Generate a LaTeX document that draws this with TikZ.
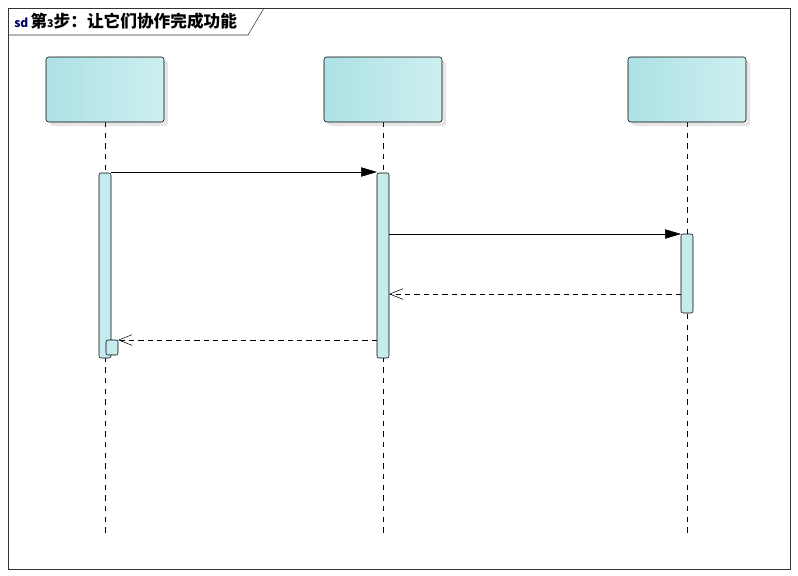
\documentclass[tikz,border=0pt]{standalone}
\usepackage{fontspec}
\newfontfamily\cjk{Noto Sans CJK SC}
\usetikzlibrary{arrows.meta,shadows}
\definecolor{boxL}{HTML}{ADE1E5}
\definecolor{boxR}{HTML}{CDEFF0}
\definecolor{actF}{HTML}{C4ECEE}
\begin{document}
\begin{tikzpicture}[x=0.75pt,y=-0.75pt,
  life/.style={draw=black,rounded corners=2pt,left color=boxL,right color=boxR,drop shadow={opacity=0.2,shadow xshift=3pt,shadow yshift=-3pt}},
  act/.style={draw=black,rounded corners=1.5pt,fill=actF},
  lline/.style={black,dash pattern=on 4pt off 4pt},
  msg/.style={-{Triangle[length=12pt,width=7pt]},black},
  ret/.style={dash pattern=on 4pt off 3pt,-{Straight Barb[length=10pt,width=8pt]},black}]
\useasboundingbox (0,0) rectangle (798,575);
\draw[black!80] (8,8) rectangle (790,569);
\draw[black!80] (8,35) -- (248,35) -- (264,8);
\node[anchor=west,inner sep=0] (title) at (14,21) {\cjk\bfseries{\fontsize{9}{10}\selectfont\color{blue!40!black}sd}\,\fontsize{12.5}{14}\selectfont 第{\fontsize{8}{9}\selectfont 3}步：让它们协作完成功能};
\foreach \n/\x in {a/105,b/383,c/687}{
  \coordinate (\n top) at (\x,122);
  \coordinate (\n bot) at (\x,533);
  \draw[lline] (\n top) -- (\n bot);
  \path[life] (\x-59,57) rectangle (\x+59,122);
  \node (\n) at (\x,89.5) {};
}
\filldraw[act] (99,173) rectangle (111,358);
\filldraw[act] (377,173) rectangle (389,358);
\filldraw[act] (681,234) rectangle (693,313);
\filldraw[act] (106,340) rectangle (118,355);
\coordinate (m1s) at (111,172); \coordinate (m1e) at (377,172);
\coordinate (m2s) at (389,234); \coordinate (m2e) at (681,234);
\coordinate (m3s) at (681,294); \coordinate (m3e) at (389,294);
\coordinate (m4s) at (377,340); \coordinate (m4e) at (118,340);
\draw[msg] (m1s) -- (m1e);
\draw[msg] (m2s) -- (m2e);
\draw[ret] (m3s) -- (m3e);
\draw[ret] (m4s) -- (m4e);
\end{tikzpicture}
\end{document}
